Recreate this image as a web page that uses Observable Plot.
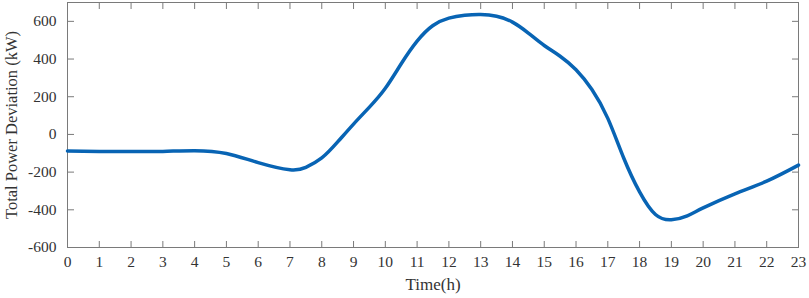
<!DOCTYPE html>
<html>
<head>
<meta charset="utf-8">
<script src="https://cdn.jsdelivr.net/npm/d3@7"></script>
<script src="https://cdn.jsdelivr.net/npm/@observablehq/plot@0.6"></script>
<style>
  html, body { margin: 0; padding: 0; background: #fff; }
  #chart { width: 809px; height: 298px; }
  #chart svg text { font-family: 'Liberation Serif', 'Times New Roman', serif; }
</style>
</head>
<body>
<div id="chart"></div>
<script>
// Time (h) and total power deviation (kW)
const hours = [0, 1, 2, 3, 4, 5, 6, 7, 7.5, 8, 8.5, 9, 9.5, 10, 10.5, 11, 11.5, 12, 12.5, 13, 13.5, 14, 14.5, 15, 15.5, 16, 16.5, 17, 17.5, 18, 18.5, 19, 19.5, 20, 21, 22, 23];
const deviation = [-88, -90, -91, -90, -86, -101, -150, -188, -175, -125, -40, 55, 145, 245, 375, 495, 578, 617, 632, 636, 627, 596, 538, 472, 415, 343, 238, 85, -125, -305, -425, -453, -432, -390, -315, -248, -163];
const xTicks = d3.range(0, 24);
const yTicks = [-600, -400, -200, 0, 200, 400, 600];

const data = hours.map((t, i) => ({t, v: deviation[i]}));

const serif = "'Liberation Serif', 'Times New Roman', serif";
const frameColor = "#7a7a7a";
const chart = Plot.plot({
  width: 809,
  height: 298,
  marginTop: 2,
  marginRight: 11,
  marginBottom: 51,
  marginLeft: 67,
  style: {fontFamily: serif, fontSize: "15px", color: "#333", background: "#fff"},
  x: {domain: [0, 23]},
  y: {domain: [-600, 700]},
  marks: [
    Plot.frame({stroke: frameColor, strokeWidth: 1}),
    // inside ticks (box style)
    Plot.axisX({anchor: "bottom", ticks: xTicks, tickSize: 6, dy: -6, text: null, label: null, stroke: frameColor}),
    Plot.axisX({anchor: "top", ticks: xTicks, tickSize: 6, dy: 6, text: null, label: null, stroke: frameColor}),
    Plot.axisY({anchor: "left", ticks: yTicks, tickSize: 7, dx: 7, text: null, label: null, stroke: frameColor}),
    Plot.axisY({anchor: "right", ticks: yTicks, tickSize: 7, dx: -7, text: null, label: null, stroke: frameColor}),
    // tick labels
    Plot.axisX({anchor: "bottom", ticks: xTicks, tickSize: 0, tickPadding: 8, tickFormat: d => String(d), label: null, fontSize: 15.5, fontFamily: serif}),
    Plot.axisY({anchor: "left", ticks: yTicks, tickSize: 0, tickPadding: 11, tickFormat: d => String(d), label: null, fontSize: 15.5, fontFamily: serif}),
    // axis titles
    Plot.axisX({anchor: "bottom", ticks: [], tickSize: 0, label: "Time(h)", labelAnchor: "center", labelArrow: "none", labelOffset: 42, fontSize: 17, fontFamily: serif}),
    Plot.axisY({anchor: "left", ticks: [], tickSize: 0, label: "Total Power Deviation (kW)", labelAnchor: "center", labelArrow: "none", labelOffset: 62, fontSize: 16.5, fontFamily: serif}),
    Plot.line(data, {x: "t", y: "v", stroke: "#0864b4", strokeWidth: 3.5, curve: "natural"})
  ]
});
document.getElementById("chart").appendChild(chart);
</script>
</body>
</html>
